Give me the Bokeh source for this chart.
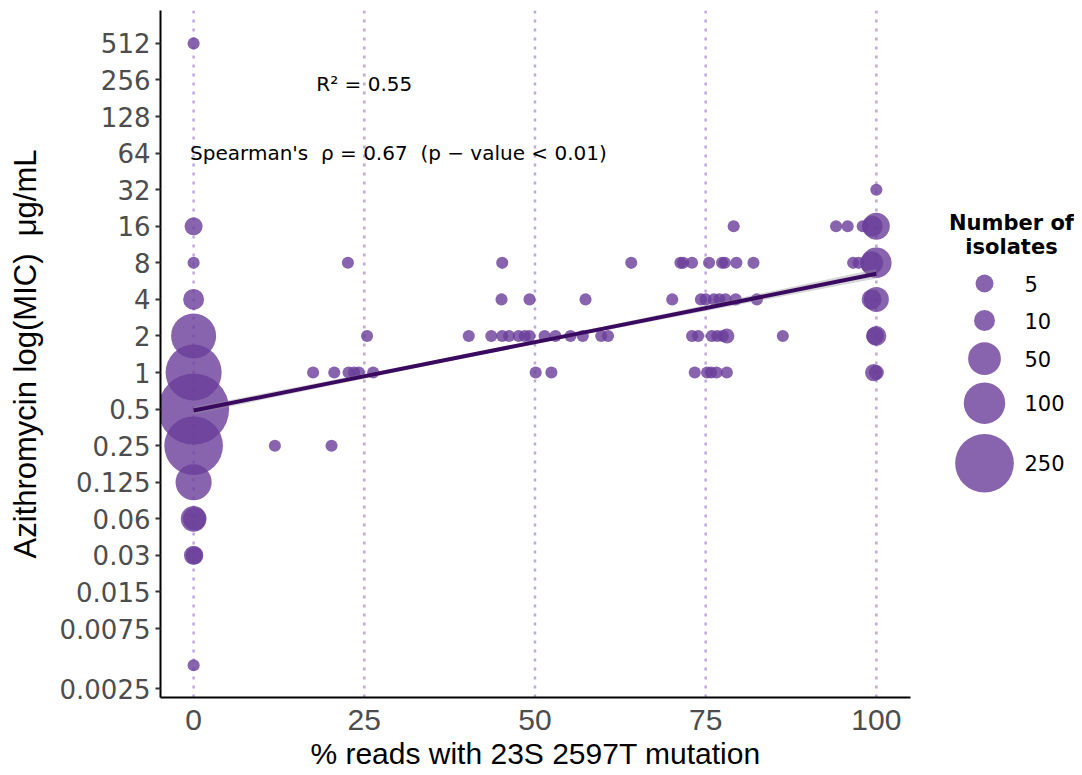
import numpy as np
from bokeh.plotting import figure
from bokeh.models import Range1d, FixedTicker, Span, ColumnDataSource
from bokeh.layouts import row
from bokeh.embed import file_html
from bokeh.resources import INLINE
from bokeh.core.properties import value

# ---------------- data ----------------
pct_reads = [0, 0, 0, 0, 0, 0, 0, 0, 0, 0, 0.15, 0, 0.1, 0,
             11.9, 20.2,
             17.5, 20.6, 22.7, 23.5, 24.2, 26.3, 50.1, 52.4,
             73.4, 75.2, 75.8, 76.6, 78.1, 99.6, 100,
             25.4, 40.3, 43.6, 45.2, 46.2, 47.6, 48.5, 49.2, 51.4, 53.0, 55.2, 57.0,
             59.7, 60.7, 73.0, 73.9, 75.9, 76.7, 77.5, 78.1, 86.3, 99.8, 100,
             45.1, 49.2, 57.4, 70.1, 74.3, 75.0, 76.2, 77.0, 77.9, 79.4, 82.5, 99.3, 100,
             22.6, 45.2, 64.1, 71.3, 71.7, 73.0, 75.5, 77.4, 77.8, 79.5, 82.0, 96.6, 97.4, 99.3, 100,
             79.1, 94.1, 95.8, 98.0, 99.4, 100,
             100]
mic = [512, 16, 8, 4, 2, 1, 0.5, 0.25, 0.125, 0.0625, 0.0625, 0.03125, 0.03125, 0.0039,
       0.25, 0.25,
       1, 1, 1, 1, 1, 1, 1, 1,
       1, 1, 1, 1, 1, 1, 1,
       2, 2, 2, 2, 2, 2, 2, 2, 2, 2, 2, 2,
       2, 2, 2, 2, 2, 2, 2, 2, 2, 2, 2,
       4, 4, 4, 4, 4, 4, 4, 4, 4, 4, 4, 4, 4,
       8, 8, 8, 8, 8, 8, 8, 8, 8, 8, 8, 8, 8, 8, 8,
       16, 16, 16, 16, 16, 16,
       32]
n_isolates = [1, 5, 1, 10, 126, 223, 400, 250, 67, 22, 15, 7, 4, 1,
              1, 1,
              1, 1, 1, 1, 1, 1, 1, 1,
              1, 1, 1, 1, 1, 4, 2,
              1, 1, 1, 1, 1, 1, 1, 1, 1, 1, 1, 1,
              1, 1, 1, 1, 1, 1, 1, 2, 1, 5, 8,
              1, 1, 1, 1, 1, 1, 1, 1, 1, 1, 1, 8, 20,
              1, 1, 1, 1, 1, 1, 1, 1, 1, 1, 1, 1, 1, 15, 40,
              1, 1, 1, 1, 10, 26,
              1]

y_tick_values = [0.0025, 2**-7, 2**-6, 2**-5, 2**-4, 2**-3, 2**-2, 2**-1, 1, 2, 4, 8,
                 16, 32, 64, 128, 256, 512]
y_tick_labels = ["0.0025", "0.0075", "0.015", "0.03", "0.06", "0.125", "0.25", "0.5",
                 "1", "2", "4", "8", "16", "32", "64", "128", "256", "512"]
x_tick_values = [0, 25, 50, 75, 100]

# fitted line (log2 MIC) and its confidence half-width
fit_x = [0, 20, 40, 60, 80, 100]
fit_log2 = [-1.04, -0.29, 0.46, 1.20, 1.95, 2.70]
fit_halfwidth_log2 = [0.10, 0.07, 0.05, 0.06, 0.09, 0.13]

legend_counts = [5, 10, 50, 100, 250]
legend_labels = ["5", "10", "50", "100", "250"]

NB = "\u00a0"
r2_text = "R² = 0.55"
spearman_text = "Spearman's" + NB * 2 + "ρ = 0.67" + NB * 2 + "(p − value < 0.01)"
y_title = "Azithromycin log(MIC)" + NB * 2 + "μg/mL"

# ---------------- styling helpers ----------------
PURPLE = "#6A3D9A"
LINE_COL = "#3A0A60"
VLINE_COL = "#BFA9DB"

FRAME_W, FRAME_H = 750, 687
B_LEFT, B_TOP, B_BOTTOM = 160, 10, 68


def diameter(n):
    n = np.asarray(n, dtype=float)
    return 12.1 + 2.95 * np.sqrt(n - 1)


src = ColumnDataSource(dict(x=pct_reads, y=mic, d=diameter(n_isolates)))

p = figure(frame_width=FRAME_W, frame_height=FRAME_H,
           x_range=Range1d(-4.85, 105), y_range=Range1d(2 ** -8.886, 2 ** 9.9),
           y_axis_type="log", output_backend="svg", toolbar_location=None,
           min_border_left=B_LEFT, min_border_top=B_TOP, min_border_bottom=B_BOTTOM,
           min_border_right=4,
           outline_line_color=None, background_fill_color="white", border_fill_color="white")
p.grid.visible = False

for v in x_tick_values:
    p.add_layout(Span(location=v, dimension="height", line_color=VLINE_COL,
                      line_dash="3 6", line_width=2.5, level="underlay"))

p.scatter(x="x", y="y", size="d", source=src, fill_color=PURPLE, fill_alpha=0.8,
          line_color=None)

fx = np.array(fit_x, dtype=float)
fl = np.array(fit_log2)
fh = np.array(fit_halfwidth_log2)
p.varea(x=fx, y1=2 ** (fl - fh), y2=2 ** (fl + fh), fill_color="#999999", fill_alpha=0.4)
p.line(fx, 2 ** fl, line_color=LINE_COL, line_width=4)

p.text(x=[25], y=[2 ** 7.9], text=[r2_text], text_font=value("DejaVu Sans"),
       text_font_size="20px", text_align="center", text_baseline="middle", text_color="black")
p.text(x=[30], y=[64], text=[spearman_text], text_font=value("DejaVu Sans"),
       text_font_size="20px", text_align="center", text_baseline="middle", text_color="black")

# axes
p.xaxis.ticker = FixedTicker(ticks=x_tick_values)
p.xaxis.major_tick_line_color = None
p.xaxis.minor_tick_line_color = None
p.xaxis.major_label_text_font = "Liberation Sans"
p.xaxis.major_label_text_font_size = "30px"
p.xaxis.major_label_text_color = "#4D4D4D"
p.xaxis.major_label_standoff = 6
p.xaxis.axis_label = "% reads with 23S 2597T mutation"
p.xaxis.axis_label_text_font = "Liberation Sans"
p.xaxis.axis_label_text_font_size = "30px"
p.xaxis.axis_label_text_font_style = "normal"
p.xaxis.axis_label_text_color = "black"
p.xaxis.axis_label_standoff = 4
p.xaxis.axis_line_width = 2
p.xaxis.axis_line_color = "black"

p.yaxis.ticker = FixedTicker(ticks=y_tick_values)
p.yaxis.major_label_overrides = {float(v): lab for v, lab in zip(y_tick_values, y_tick_labels)}
p.yaxis.minor_tick_line_color = None
p.yaxis.major_tick_out = 5
p.yaxis.major_tick_in = 0
p.yaxis.major_tick_line_width = 2
p.yaxis.major_tick_line_color = "#333333"
p.yaxis.major_label_text_font = "DejaVu Sans"
p.yaxis.major_label_text_font_size = "26px"
p.yaxis.major_label_text_color = "#4D4D4D"
p.yaxis.major_label_standoff = 5
p.yaxis.axis_label = y_title
p.yaxis.axis_label_text_font = "Liberation Sans"
p.yaxis.axis_label_text_font_size = "31px"
p.yaxis.axis_label_text_font_style = "normal"
p.yaxis.axis_label_text_color = "black"
p.yaxis.axis_label_standoff = 14
p.yaxis.axis_line_width = 2
p.yaxis.axis_line_color = "black"

# ---------------- size legend as its own small figure ----------------
# its frame is given the same vertical extent as the main frame; its data units are pixels
LW = 160
lg = figure(frame_width=LW, frame_height=FRAME_H,
            x_range=Range1d(0, LW), y_range=Range1d(FRAME_H, 0),
            output_backend="svg", toolbar_location=None,
            min_border_left=0, min_border_right=0,
            min_border_top=B_TOP, min_border_bottom=B_BOTTOM,
            x_axis_location=None, y_axis_location=None, outline_line_color=None,
            background_fill_color="white", border_fill_color="white")
lg.grid.visible = False

ld = diameter(legend_counts)
key_h = np.maximum(37.0, 1.2 * ld)
centers = [273.0]
for i in range(1, len(ld)):
    centers.append(centers[-1] + (key_h[i - 1] + key_h[i]) / 2)

lg.scatter(x=[70] * len(ld), y=centers, size=ld, fill_color=PURPLE, fill_alpha=0.8,
           line_color=None)
lg.text(x=[110] * len(ld), y=centers, text=legend_labels, text_font=value("DejaVu Sans"),
        text_font_size="21px", text_align="left", text_baseline="middle", text_color="black")
lg.text(x=[97, 97], y=[212, 236], text=["Number of", "isolates"],
        text_font=value("DejaVu Sans"), text_font_style="bold", text_font_size="21px",
        text_align="center", text_baseline="middle", text_color="black")

layout = row(p, lg)
open("out.html", "w").write(file_html(layout, INLINE))
